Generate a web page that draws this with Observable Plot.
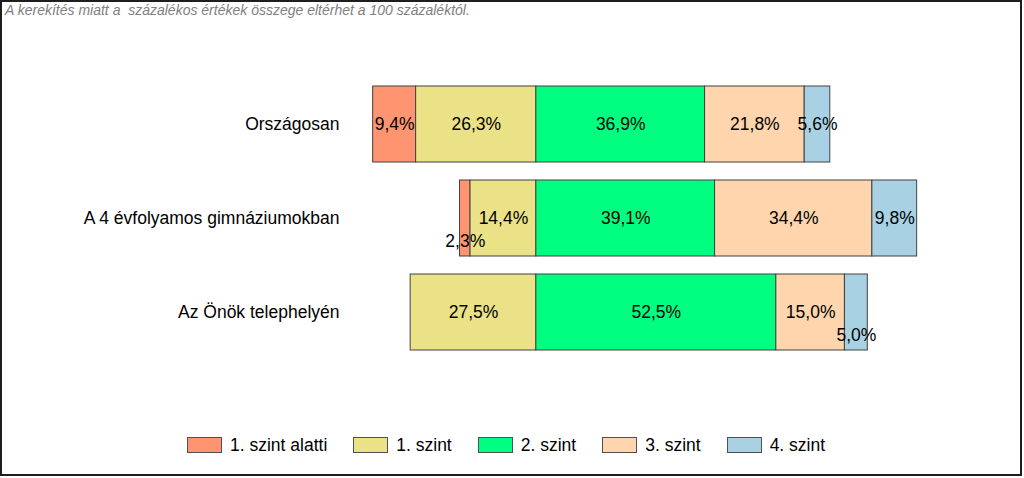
<!DOCTYPE html>
<html>
<head>
<meta charset="utf-8">
<script src="https://cdn.jsdelivr.net/npm/d3@7"></script>
<script src="https://cdn.jsdelivr.net/npm/@observablehq/plot@0.6"></script>
<style>
  html, body { margin: 0; padding: 0; background: #fff; }
  #wrap { position: relative; width: 1024px; height: 478px; overflow: hidden; font-family: "Liberation Sans", Arial, sans-serif; }
  #title { position: absolute; left: 5px; top: 2px; font-size: 14px; line-height: 16px; font-style: italic; color: #808080; white-space: pre; }
  #chart { position: absolute; left: 0; top: 22px; }
  #legend { position: absolute; left: 187px; top: 435px; display: flex; align-items: center; gap: 26px; font-size: 17.5px; line-height: 20px; color: #000; }
  .item { display: flex; align-items: center; gap: 8px; }
  .sw { width: 35px; height: 16px; box-sizing: border-box; border: 1px solid #505050; }
  #border { position: absolute; left: 0; top: 0; width: 1022px; height: 476px; box-sizing: border-box; border: 2px solid #1e1e1e; pointer-events: none; }
</style>
</head>
<body>
<div id="wrap">
  <div id="title"></div>
  <div id="chart"></div>
  <div id="legend"></div>
  <div id="border"></div>
</div>
<script>
const titleText = "A kerekítés miatt a  százalékos értékek összege eltérhet a 100 százaléktól.";
const categories = ["Országosan", "A 4 évfolyamos gimnáziumokban", "Az Önök telephelyén"];
const levels = ["1. szint alatti", "1. szint", "2. szint", "3. szint", "4. szint"];
const colors = ["#FF9470", "#EBE187", "#00FF80", "#FFD5AE", "#A8D2E4"];
const orszagosan = [9.4, 26.3, 36.9, 21.8, 5.6];
const gimnaziumok = [2.3, 14.4, 39.1, 34.4, 9.8];
const telephely = [0, 27.5, 52.5, 15.0, 5.0];
const series = [orszagosan, gimnaziumok, telephely];

document.getElementById("title").textContent = titleText;

const rows = [];
categories.forEach((cat, i) => {
  const vals = series[i];
  let x = -(vals[0] + vals[1]);
  vals.forEach((v, j) => {
    rows.push({cat, level: levels[j], value: v, x1: x, x2: x + v});
    x += v;
  });
});
const shown = rows.filter(d => d.value > 0);
const fmt = d => d.value.toFixed(1).replace(".", ",") + "%";
const small = d => d.value < 5.5;

const font = "'Liberation Sans', Arial, sans-serif";
const plot = Plot.plot({
  width: 1024,
  height: 400,
  marginLeft: 353,
  marginRight: 31,
  marginTop: 45.75,
  marginBottom: 53.25,
  style: {fontFamily: font, fontSize: "17.5px", background: "transparent", color: "#000"},
  x: {domain: [-40, 100], axis: null},
  y: {domain: categories, padding: 0.1936, axis: null},
  color: {domain: levels, range: colors},
  marks: [
    Plot.barX(shown, {x1: "x1", x2: "x2", y: "cat", fill: "level", stroke: "#404040", strokeWidth: 1}),
    Plot.text(shown.filter(d => !small(d)), {x: d => (d.x1 + d.x2) / 2, y: "cat", text: fmt, fontSize: 17.5, fill: "#000"}),
    Plot.text(shown.filter(small), {x: d => (d.x1 + d.x2) / 2, y: "cat", text: fmt, fontSize: 17.5, fill: "#000", dy: 23}),
    Plot.axisY({tickSize: 0, tickPadding: 14, fontSize: 17.5, fill: "#000", label: null})
  ]
});
document.getElementById("chart").appendChild(plot);

const legend = document.getElementById("legend");
levels.forEach((lv, i) => {
  const item = document.createElement("div");
  item.className = "item";
  const sw = document.createElement("div");
  sw.className = "sw";
  sw.style.background = colors[i];
  const t = document.createElement("span");
  t.textContent = lv;
  item.appendChild(sw);
  item.appendChild(t);
  legend.appendChild(item);
});
</script>
</body>
</html>
